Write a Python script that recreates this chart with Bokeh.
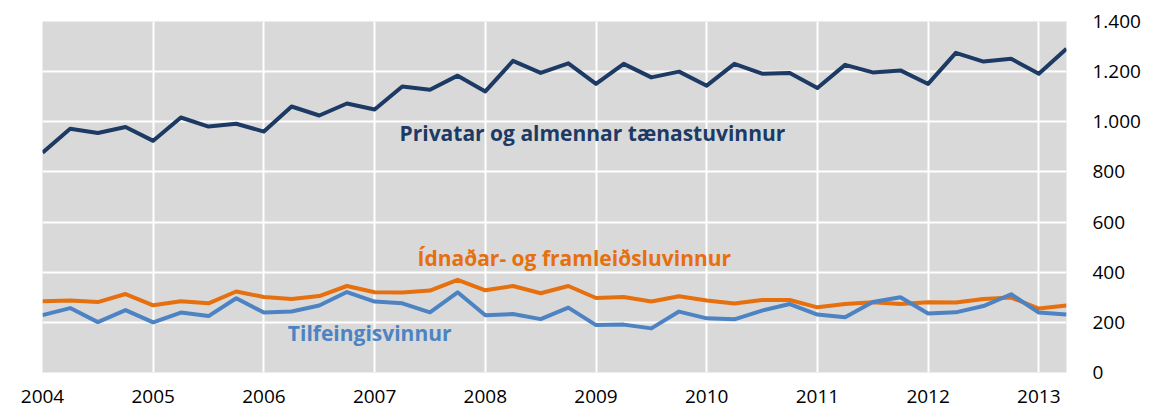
from bokeh.plotting import figure
from bokeh.models import Range1d, FixedTicker, LinearAxis, Label
from bokeh.embed import file_html
from bokeh.resources import INLINE

# Quarterly data 2004Q1 .. 2013Q2
years = list(range(2004, 2014))
quarters = [y + q / 4 for y in years for q in range(4)][:38]

privatar = [877, 972, 955, 979, 924, 1017, 981, 992, 961, 1061, 1025, 1073, 1049, 1141,
            1128, 1184, 1121, 1243, 1195, 1233, 1151, 1231, 1177, 1200, 1144, 1231, 1192, 1195,
            1135, 1227, 1197, 1205, 1151, 1275, 1240, 1251, 1192, 1291]
idnadar = [284, 287, 281, 313, 268, 284, 276, 323, 301, 293, 305, 345, 320, 319,
           327, 369, 328, 345, 316, 345, 297, 301, 283, 304, 287, 275, 289, 289,
           260, 273, 280, 273, 280, 279, 293, 299, 255, 267]
tilfeingis = [229, 257, 201, 249, 200, 239, 225, 296, 239, 243, 267, 321, 283, 276,
              240, 320, 228, 233, 213, 259, 189, 191, 176, 243, 216, 212, 247, 273,
              231, 220, 281, 300, 235, 240, 265, 312, 239, 231]

y_ticks = [0, 200, 400, 600, 800, 1000, 1200, 1400]
y_tick_labels = ["0", "200", "400", "600", "800", "1.000", "1.200", "1.400"]
x_ticks = years
x_tick_labels = [str(y) for y in years]

series_names = ["Privatar og almennar tænastuvinnur", "Ídnaðar- og framleiðsluvinnur", "Tilfeingisvinnur"]
colors = ["#1C3A64", "#E66F0E", "#4D83C2"]

FONT = "Open Sans"

p = figure(width=1143, height=406, output_backend="svg", toolbar_location=None,
           x_range=Range1d(2004, 2013.25), y_range=Range1d(0, 1400),
           min_border_left=42, min_border_right=73, min_border_top=21, min_border_bottom=34,
           y_axis_location=None)
p.background_fill_color = "#D9D9D9"
p.border_fill_color = "white"
p.outline_line_color = None

yaxis = LinearAxis(ticker=FixedTicker(ticks=y_ticks),
                   major_label_overrides={t: l for t, l in zip(y_ticks, y_tick_labels)})
p.add_layout(yaxis, "right")

for ax in [p.xaxis[0], yaxis]:
    ax.axis_line_color = None
    ax.major_tick_line_color = None
    ax.minor_tick_line_color = None
    ax.major_label_text_font = FONT
    ax.major_label_text_font_size = "19px"
    ax.major_label_text_color = "#000000"

p.xaxis[0].ticker = FixedTicker(ticks=x_ticks)
p.xaxis[0].major_label_overrides = {t: l for t, l in zip(x_ticks, x_tick_labels)}
p.xaxis[0].major_label_standoff = 11
yaxis.major_label_standoff = 20

p.xgrid.ticker = FixedTicker(ticks=x_ticks)
p.ygrid.ticker = FixedTicker(ticks=y_ticks)
p.xgrid.grid_line_color = "white"
p.ygrid.grid_line_color = "white"
p.xgrid.grid_line_width = 2
p.ygrid.grid_line_width = 2

for vals, c in zip([privatar, idnadar, tilfeingis], colors):
    p.line(quarters, vals, line_color=c, line_width=4, line_join="round")

label_pos = [(2007.225, 956), (2007.387, 456), (2006.216, 156)]
for name, c, (lx, ly) in zip(series_names, colors, label_pos):
    p.add_layout(Label(x=lx, y=ly, text=name, text_color=c, text_font=FONT,
                       text_font_style="bold", text_font_size="21px",
                       text_baseline="middle", text_align="left"))

open("out.html", "w").write(file_html(p, INLINE))
